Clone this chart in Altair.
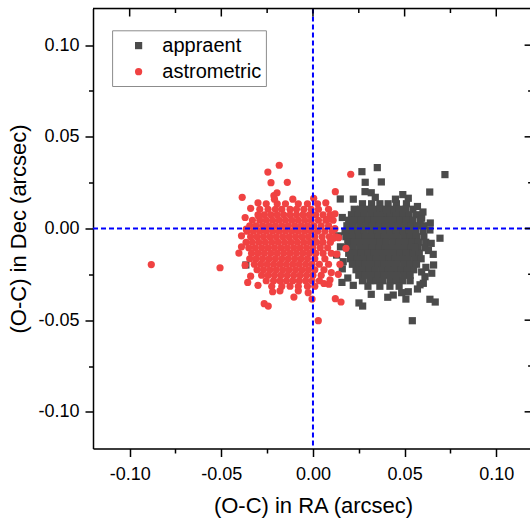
import altair as alt
import pandas as pd

# ---------------- data ----------------
series_names = ["appraent", "astrometric"]
series_colors = ["#4b4b4b", "#f04242"]

tick_major = [-0.10, -0.05, 0.0, 0.05, 0.10]
tick_minor = [-0.075, -0.025, 0.025, 0.075]

x_title = "(O-C) in RA (arcsec)"
y_title = "(O-C) in Dec (arcsec)"

# "appraent" (grey squares): dense core, row by row (y of row, x values)
gray_row_y = [0.0135, 0.0105, 0.0075, 0.0045, 0.0015, -0.0015, -0.0045, -0.0075,
              -0.0105, -0.0135, -0.0165, -0.0195, -0.0225, -0.0255, -0.0285, -0.0315]
gray_row_x = [
    [0.0270, 0.0320, 0.0365, 0.0410, 0.0455, 0.0510],
    [0.0225, 0.0260, 0.0295, 0.0330, 0.0365, 0.0400, 0.0435, 0.0470, 0.0505, 0.0545],
    [0.0210, 0.0245, 0.0280, 0.0315, 0.0350, 0.0385, 0.0420, 0.0455, 0.0490, 0.0525, 0.0565],
    [0.0195, 0.0230, 0.0265, 0.0300, 0.0335, 0.0370, 0.0405, 0.0440, 0.0475, 0.0510, 0.0545, 0.0585],
    [0.0185, 0.0220, 0.0255, 0.0290, 0.0325, 0.0360, 0.0395, 0.0430, 0.0465, 0.0500, 0.0535, 0.0570, 0.0605],
    [0.0175, 0.0210, 0.0245, 0.0280, 0.0315, 0.0350, 0.0385, 0.0420, 0.0455, 0.0490, 0.0525, 0.0560, 0.0600],
    [0.0180, 0.0215, 0.0250, 0.0285, 0.0320, 0.0355, 0.0390, 0.0425, 0.0460, 0.0495, 0.0530, 0.0565, 0.0605],
    [0.0190, 0.0225, 0.0260, 0.0295, 0.0330, 0.0365, 0.0400, 0.0435, 0.0470, 0.0505, 0.0540, 0.0575, 0.0615],
    [0.0185, 0.0220, 0.0255, 0.0290, 0.0325, 0.0360, 0.0395, 0.0430, 0.0465, 0.0500, 0.0535, 0.0570, 0.0610],
    [0.0195, 0.0230, 0.0265, 0.0300, 0.0335, 0.0370, 0.0405, 0.0440, 0.0475, 0.0510, 0.0545, 0.0580],
    [0.0205, 0.0240, 0.0275, 0.0310, 0.0345, 0.0380, 0.0415, 0.0450, 0.0485, 0.0520, 0.0555, 0.0590],
    [0.0215, 0.0250, 0.0285, 0.0320, 0.0355, 0.0390, 0.0425, 0.0460, 0.0495, 0.0530, 0.0565],
    [0.0235, 0.0270, 0.0305, 0.0340, 0.0375, 0.0410, 0.0445, 0.0480, 0.0515, 0.0550],
    [0.0250, 0.0285, 0.0320, 0.0355, 0.0390, 0.0425, 0.0460, 0.0495, 0.0530],
    [0.0270, 0.0310, 0.0345, 0.0380, 0.0420, 0.0455, 0.0490, 0.0530],
    [0.0300, 0.0365, 0.0420, 0.0470],
]
# "appraent" scattered points
gray_out_x = [0.0267, 0.0351, 0.0285, 0.0373, 0.0720, 0.0637, 0.0149, 0.0520, 0.0318, 0.0284,
              0.0402, 0.0593, 0.0638, 0.0645, 0.0693, 0.0656, 0.0658, 0.0616, 0.0611, 0.0593,
              0.0648, 0.0584, 0.0602, 0.0556, 0.0158, 0.0318, 0.0251, 0.0271, 0.0408, 0.0438,
              0.0507, 0.0520, 0.0484, 0.0638, 0.0667, 0.0542, -0.0366, 0.0129, 0.0165,
              0.0220, 0.0340, 0.0450, 0.0490, 0.0570, 0.0600, 0.0160, 0.0140, 0.0150, 0.0160,
              0.0190, 0.0220, 0.0570, 0.0630, 0.0640]
gray_out_y = [0.0310, 0.0332, 0.0252, 0.0254, 0.0294, 0.0199, 0.0161, 0.0165, 0.0195, 0.0201,
              0.0101, 0.0056, -0.0008, -0.0081, -0.0053, -0.0141, -0.0199, -0.0212, -0.0263, -0.0237,
              -0.0244, -0.0307, -0.0299, -0.0103, -0.0294, -0.0359, -0.0406, -0.0423, -0.0375, -0.0363,
              -0.0385, -0.0345, -0.0350, -0.0386, -0.0401, -0.0503, -0.0199, -0.0145, -0.0181,
              0.0160, 0.0170, 0.0160, 0.0185, 0.0120, 0.0090, 0.0060, -0.0040, -0.0100, -0.0220,
              -0.0270, -0.0310, -0.0330, -0.0120, 0.0030]

# "astrometric" (red circles): dense core, row by row
red_row_y = [0.0135, 0.0105, 0.0075, 0.0045, 0.0015, -0.0015, -0.0045, -0.0075,
             -0.0105, -0.0135, -0.0165, -0.0195, -0.0225, -0.0255, -0.0285, -0.0315]
red_row_x = [
    [-0.0255, -0.0195, -0.0150, -0.0080, -0.0030, 0.0025],
    [-0.0290, -0.0245, -0.0205, -0.0170, -0.0125, -0.0090, -0.0050, -0.0010, 0.0030, 0.0085],
    [-0.0300, -0.0265, -0.0230, -0.0195, -0.0160, -0.0125, -0.0090, -0.0055, -0.0020, 0.0015, 0.0055, 0.0095],
    [-0.0330, -0.0290, -0.0255, -0.0220, -0.0185, -0.0150, -0.0115, -0.0080, -0.0045, -0.0010, 0.0030, 0.0070, 0.0110],
    [-0.0345, -0.0310, -0.0275, -0.0240, -0.0205, -0.0170, -0.0135, -0.0100, -0.0065, -0.0030, 0.0005, 0.0045, 0.0085],
    [-0.0360, -0.0325, -0.0290, -0.0255, -0.0220, -0.0185, -0.0150, -0.0115, -0.0080, -0.0045, -0.0010, 0.0025, 0.0065, 0.0105],
    [-0.0340, -0.0305, -0.0270, -0.0235, -0.0200, -0.0165, -0.0130, -0.0095, -0.0060, -0.0025, 0.0010, 0.0050, 0.0090, 0.0125],
    [-0.0365, -0.0330, -0.0295, -0.0260, -0.0225, -0.0190, -0.0155, -0.0120, -0.0085, -0.0050, -0.0015, 0.0020, 0.0055, 0.0095],
    [-0.0350, -0.0315, -0.0280, -0.0245, -0.0210, -0.0175, -0.0140, -0.0105, -0.0070, -0.0035, 0.0000, 0.0040, 0.0080],
    [-0.0335, -0.0300, -0.0265, -0.0230, -0.0195, -0.0160, -0.0125, -0.0090, -0.0055, -0.0020, 0.0015, 0.0055, 0.0100],
    [-0.0345, -0.0310, -0.0275, -0.0240, -0.0205, -0.0170, -0.0135, -0.0100, -0.0065, -0.0030, 0.0010, 0.0065],
    [-0.0320, -0.0285, -0.0250, -0.0215, -0.0180, -0.0145, -0.0110, -0.0075, -0.0040, -0.0005, 0.0035, 0.0085],
    [-0.0305, -0.0270, -0.0235, -0.0200, -0.0165, -0.0130, -0.0095, -0.0060, -0.0025, 0.0010, 0.0060],
    [-0.0280, -0.0245, -0.0210, -0.0175, -0.0140, -0.0105, -0.0070, -0.0035, 0.0000, 0.0045],
    [-0.0255, -0.0215, -0.0180, -0.0145, -0.0110, -0.0075, -0.0040, -0.0005, 0.0035],
    [-0.0225, -0.0170, -0.0125, -0.0080, -0.0030, 0.0010],
]
# "astrometric" scattered points
red_out_x = [-0.0882, -0.0507, -0.0184, -0.0246, -0.0229, -0.0140, -0.0386, -0.0196, -0.0213, 0.0122,
             0.0206, 0.0004, -0.0404, -0.0356, -0.0266, -0.0244, -0.0220, -0.0104, -0.0026, -0.0005,
             0.0029, 0.0122, 0.0153, 0.0087, 0.0147, 0.0180, 0.0111, 0.0080, 0.0120, -0.0296,
             -0.0364, 0.0138, 0.0093,
             -0.0300, -0.0340, -0.0370, -0.0390, -0.0390, -0.0370, -0.0340, -0.0300, -0.0180,
             -0.0080, 0.0060, 0.0100, 0.0130, 0.0140, 0.0120, 0.0070, -0.0110, -0.0210]
red_out_y = [-0.0197, -0.0214, 0.0345, 0.0308, 0.0250, 0.0252, 0.0170, 0.0195, 0.0179, 0.0201,
             0.0296, 0.0165, -0.0134, -0.0294, -0.0410, -0.0423, -0.0345, -0.0374, -0.0350, -0.0385,
             -0.0503, -0.0383, -0.0401, -0.0304, -0.0195, -0.0108, -0.0053, 0.0050, -0.0001, 0.0068,
             -0.0003, -0.0250, -0.0280,
             0.0140, 0.0110, 0.0060, -0.0040, -0.0100, -0.0200, -0.0260, -0.0310, -0.0340,
             -0.0340, -0.0300, -0.0240, -0.0140, -0.0050, 0.0080, 0.0140, 0.0160, 0.0160]

# ---------------- tables ----------------
def build(rows_y, rows_x, out_x, out_y):
    xs, ys = [], []
    for yv, row in zip(rows_y, rows_x):
        for xv in row:
            xs.append(xv)
            ys.append(yv)
    xs += out_x
    ys += out_y
    return pd.DataFrame({"x": xs, "y": ys})

gray_df = build(gray_row_y, gray_row_x, gray_out_x, gray_out_y)
red_df = build(red_row_y, red_row_x, red_out_x, red_out_y)

W, H = 437, 440
FONT = "Liberation Sans"
SQ_SIZE = 52
CI_SIZE = 52

xs = alt.Scale(domain=[-0.12, 0.1184], nice=False, zero=False)
ys = alt.Scale(domain=[-0.12, 0.12], nice=False, zero=False)

is_major = "abs(datum.value*20 - round(datum.value*20)) < 0.01"
lab = ("abs(datum.value*20 - round(datum.value*20)) < 0.01 ? "
       "(datum.value < -0.0001 ? '-' : '') + format(abs(datum.value), '.2f') : ''")

common_axis = dict(
    values=tick_major + tick_minor, labelExpr=lab, grid=False,
    tickSize={"condition": {"test": is_major, "value": 8}, "value": 4.5},
    domainColor="black", domainWidth=1.5, tickColor="black", tickWidth=1.5,
    labelFont=FONT, labelFontSize=18, labelColor="black", labelOverlap=False,
    labelFlush=False, titleFont=FONT, titleFontSize=22, titleFontWeight="normal",
    titleColor="black",
)
xaxis = alt.Axis(title=x_title, labelPadding=9, titlePadding=12, titleX=220, **common_axis)
yaxis = alt.Axis(title=y_title, labelPadding=6, titlePadding=7, **common_axis)

X = lambda f="x": alt.X(f"{f}:Q", scale=xs, axis=xaxis)
Y = lambda f="y": alt.Y(f"{f}:Q", scale=ys, axis=yaxis)

gray = alt.Chart(gray_df).mark_point(
    shape="square", filled=True, size=SQ_SIZE, color=series_colors[0], opacity=1
).encode(x=X(), y=Y())

red = alt.Chart(red_df).mark_circle(
    size=CI_SIZE, color=series_colors[1], opacity=1
).encode(x=X(), y=Y())

zero_df = pd.DataFrame({"x": [0.0], "y": [0.0]})
vline = alt.Chart(zero_df).mark_rule(color="#0000ff", strokeWidth=2, strokeDash=[5, 3]).encode(x=X())
hline = alt.Chart(zero_df).mark_rule(color="#0000ff", strokeWidth=2, strokeDash=[5, 3]).encode(y=Y())

top_line = alt.Chart(zero_df).mark_rule(color="black", strokeWidth=1.5).encode(
    x=alt.value(0), x2=alt.value(W), y=alt.value(0))

top_major = alt.Chart(pd.DataFrame({"x": tick_major})).mark_rule(color="black", strokeWidth=1.5).encode(
    x=X(), y=alt.value(0), y2=alt.value(8))
top_minor = alt.Chart(pd.DataFrame({"x": tick_minor})).mark_rule(color="black", strokeWidth=1.5).encode(
    x=X(), y=alt.value(0), y2=alt.value(4.5))
right_major = alt.Chart(pd.DataFrame({"y": tick_major})).mark_rule(color="black", strokeWidth=1.5).encode(
    y=Y(), x=alt.value(431.6), x2=alt.value(W))
right_minor = alt.Chart(pd.DataFrame({"y": tick_minor})).mark_rule(color="black", strokeWidth=1.5).encode(
    y=Y(), x=alt.value(435.1), x2=alt.value(W))

# legend
leg_box = alt.Chart(pd.DataFrame({"n": [1]})).mark_rect(
    fill="white", stroke="#8c8c8c", strokeWidth=1).encode(
    x=alt.value(19.6), x2=alt.value(173.4), y=alt.value(22.3), y2=alt.value(78))
leg_sym0 = alt.Chart(pd.DataFrame({"name": [series_names[0]]})).mark_point(
    shape="square", filled=True, size=SQ_SIZE, color=series_colors[0], opacity=1).encode(
    x=alt.value(45.6), y=alt.value(37.1))
leg_sym1 = alt.Chart(pd.DataFrame({"name": [series_names[1]]})).mark_circle(
    size=CI_SIZE, color=series_colors[1], opacity=1).encode(
    x=alt.value(45.6), y=alt.value(63.2))
leg_txt0 = alt.Chart(pd.DataFrame({"name": [series_names[0]]})).mark_text(
    align="left", baseline="middle", font=FONT, fontSize=20, color="black").encode(
    x=alt.value(69.3), y=alt.value(37.1), text="name:N")
leg_txt1 = alt.Chart(pd.DataFrame({"name": [series_names[1]]})).mark_text(
    align="left", baseline="middle", font=FONT, fontSize=20, color="black").encode(
    x=alt.value(69.3), y=alt.value(63.2), text="name:N")

chart = alt.layer(
    gray, red, vline, hline, top_line, top_major, top_minor, right_major, right_minor,
    leg_box, leg_sym0, leg_sym1, leg_txt0, leg_txt1
).properties(
    width=W, height=H,
    padding={"left": 93, "top": 8.5, "right": 0, "bottom": 69.5},
    autosize="none",
).configure_view(stroke=None).configure(background="white")

chart.save("out.html", embed_options={"renderer": "svg", "actions": False})
